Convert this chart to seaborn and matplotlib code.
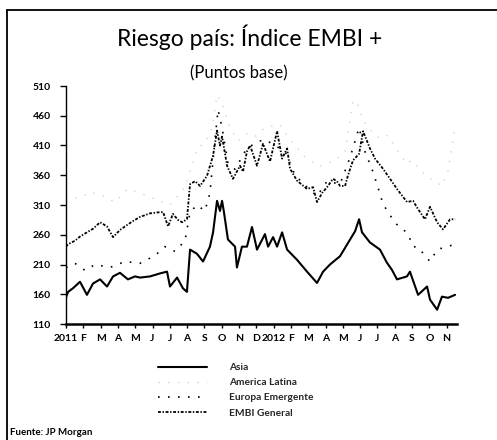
import matplotlib
matplotlib.use("Agg")
import matplotlib.pyplot as plt
import seaborn as sns
import numpy as np
import pandas as pd
from matplotlib.lines import Line2D

sns.set_theme(style="white")
plt.rcParams['font.family'] = ['Lato', 'DejaVu Sans']

# x positions are months since Jan 2011 (0 = Jan 2011, 12 = Jan 2012)
month_labels = ["2011", "F", "M", "A", "M", "J", "J", "A", "S", "O", "N", "D",
                "2012", "F", "M", "A", "M", "J", "J", "A", "S", "O", "N"]
y_ticks = [110, 160, 210, 260, 310, 360, 410, 460, 510]

# values, per series (month index, basis points)
asia_mes = [0.0, 0.12, 0.4, 0.81, 1.21, 1.56, 1.97, 2.37, 2.72, 3.12, 3.58, 3.99, 4.28,
            4.86, 5.43, 5.84, 6.01, 6.42, 6.76, 6.99, 7.17, 7.57, 7.92, 8.32, 8.5, 8.73,
            8.9, 9.02, 9.13, 9.36, 9.77, 9.88, 10.17, 10.46, 10.75, 11.04, 11.5, 11.68,
            11.97, 12.2, 12.49, 12.78, 13.35, 13.93, 14.51, 14.86, 15.26, 15.84, 16.42,
            16.71, 16.94, 17.11, 17.57, 18.15, 18.55, 18.84, 19.13, 19.71, 19.88, 20.35,
            20.87, 21.04, 21.45, 21.73, 22.08, 22.49]
asia_pb = [155, 164, 170, 181, 159, 178, 185, 173, 190, 196, 185, 190, 188,
           190, 195, 198, 173, 188, 170, 164, 235, 228, 215, 240, 264, 317,
           300, 317, 298, 252, 240, 205, 240, 240, 273, 235, 261, 240,
           256, 240, 264, 235, 218, 198, 179, 198, 210, 224, 252,
           266, 286, 264, 247, 235, 213, 201, 185, 190, 198, 159,
           173, 151, 134, 156, 154, 159]

latina_mes = [0.0, 0.92, 1.39, 2.14, 2.83, 3.58, 4.28, 5.14, 6.01, 6.88, 7.63, 8.03,
              8.44, 8.73, 9.02, 9.48, 9.94, 10.46, 10.92, 11.5, 12.37, 12.95, 13.82,
              14.68, 15.55, 16.13, 16.59, 16.88, 17.17, 17.86, 18.15, 18.61, 19.31,
              19.71, 19.94, 20.46, 20.87, 21.33, 21.73, 22.08, 22.49]
latina_pb = [320, 323, 332, 325, 315, 337, 330, 320, 310, 340, 408, 413,
             440, 495, 481, 440, 418, 430, 425, 440, 445, 420, 390,
             375, 385, 400, 486, 478, 452, 427, 422, 427, 395,
             379, 385, 370, 357, 350, 342, 367, 440]

europa_mes = [0.0, 0.52, 1.1, 1.68, 2.54, 3.41, 4.28, 5.14, 5.72, 6.3, 6.88, 7.17,
              7.57, 8.03, 8.32, 8.61, 8.79, 9.02, 9.36, 9.77, 10.35, 10.92, 11.5, 12.08,
              12.66, 13.24, 13.93, 14.51, 15.09, 15.84, 16.42, 16.94, 17.28, 17.69,
              18.03, 18.32, 18.61, 19.08, 19.31, 19.77, 20.06, 20.35, 21.04, 21.45,
              21.79, 22.49]
europa_pb = [205, 212, 200, 210, 205, 215, 212, 225, 240, 232, 250, 298,
             310, 300, 330, 420, 470, 440, 380, 370, 400, 415, 420, 410,
             400, 360, 340, 325, 350, 345, 390, 440, 400, 370,
             340, 312, 298, 278, 274, 261, 240, 239, 215, 235,
             238, 244]

embi_mes = [0.0, 0.12, 0.52, 0.81, 1.21, 1.56, 1.97, 2.37, 2.72, 3.12, 3.41, 3.87,
            4.28, 4.86, 5.43, 5.61, 5.9, 6.18, 6.47, 6.71, 6.99, 7.17, 7.46, 7.75,
            8.15, 8.5, 8.73, 8.9, 9.02, 9.31, 9.65, 10.06, 10.23, 10.46, 10.64,
            11.04, 11.39, 11.79, 12.2, 12.49, 12.78, 12.95, 13.35, 13.93, 14.28,
            14.51, 14.8, 15.09, 15.43, 15.66, 15.84, 16.13, 16.3, 16.59, 16.94,
            17.17, 17.57, 17.86, 18.32, 18.73, 19.13, 19.71, 20.06, 20.35, 20.75,
            21.04, 21.45, 21.79, 22.2, 22.49]
embi_pb = [240, 244, 250, 257, 264, 270, 281, 274, 256, 268, 274, 283,
           290, 296, 298, 298, 274, 295, 285, 281, 286, 345, 350, 342,
           359, 393, 435, 410, 425, 376, 354, 376, 366, 400, 410,
           376, 413, 383, 434, 388, 405, 371, 351, 337, 340,
           315, 330, 340, 354, 350, 342, 342, 360, 385, 396,
           434, 405, 388, 371, 354, 337, 315, 317, 303, 286,
           307, 281, 269, 286, 286]

series = [
    ("Asia", asia_mes, asia_pb, "black", "-", 1.5),
    ("America Latina", latina_mes, latina_pb, "#d2d2d2", (0, (1, 6)), 1.0),
    ("Europa Emergente", europa_mes, europa_pb, "black", (0, (1, 5)), 1.2),
    ("EMBI General", embi_mes, embi_pb, "black", (0, (1.6, 0.9, 0.8, 0.9)), 1.3),
]

fig = plt.figure(figsize=(4.97, 4.4), dpi=100)
ax = fig.add_axes([66 / 497, 1 - 324 / 440, 391 / 497, 238 / 440])

for name, xs, ys, col, ls, lw in series:
    df = pd.DataFrame({"mes": xs, "pb": ys})
    sns.lineplot(data=df, x="mes", y="pb", ax=ax, color=col, linestyle=ls,
                 linewidth=lw, label=name, estimator=None, sort=False)

ax.set_xlim(0, 22.6)
ax.set_ylim(110, 510)
ax.set_yticks(y_ticks)
ax.set_xticks(range(len(month_labels)))
ax.set_xticklabels(month_labels)
ax.set_xlabel("")
ax.set_ylabel("")
ax.grid(False)
for s in ["top", "right"]:
    ax.spines[s].set_visible(False)
ax.spines["left"].set_color("black")
ax.spines["left"].set_linewidth(1.0)
ax.spines["bottom"].set_color("black")
ax.spines["bottom"].set_linewidth(1.8)
ax.tick_params(axis="y", direction="out", length=4, width=1, color="black",
               pad=7, labelsize=7.5, left=True)
ax.tick_params(axis="x", direction="out", length=3, width=1, color="black",
               pad=4, labelsize=7.5, bottom=True)
for lab in ax.get_xticklabels() + ax.get_yticklabels():
    lab.set_fontweight("bold")
    lab.set_color("black")

handles, labels = ax.get_legend_handles_labels()
ax.legend(handles, labels, loc="upper left", bbox_to_anchor=(158 / 497, 1 - 363 / 440),
          bbox_transform=fig.transFigure, frameon=False,
          handlelength=4.8, handletextpad=2.2, labelspacing=0.6,
          borderpad=0, borderaxespad=0, prop={"weight": "bold", "size": 7.3})

fig.text(250 / 497, 1 - 37 / 440, "Riesgo país: Índice EMBI +", ha="center",
         va="center", fontsize=16.5, color="black")
fig.text(239 / 497, 1 - 73 / 440, "(Puntos base)", ha="center", va="center",
         fontsize=12, color="black")
fig.text(10 / 497, 1 - 432 / 440, "Fuente: JP Morgan", ha="left", va="center",
         fontsize=7, fontweight="bold", color="black")

# scanned frame: only left and top edges show
fig.add_artist(Line2D([7 / 497, 7 / 497], [0, 1 - 10 / 440], transform=fig.transFigure,
                      color="black", lw=1.3))
fig.add_artist(Line2D([7 / 497, 1], [1 - 10 / 440, 1 - 10 / 440], transform=fig.transFigure,
                      color="black", lw=1.3))

fig.savefig("out.png", dpi=100)
